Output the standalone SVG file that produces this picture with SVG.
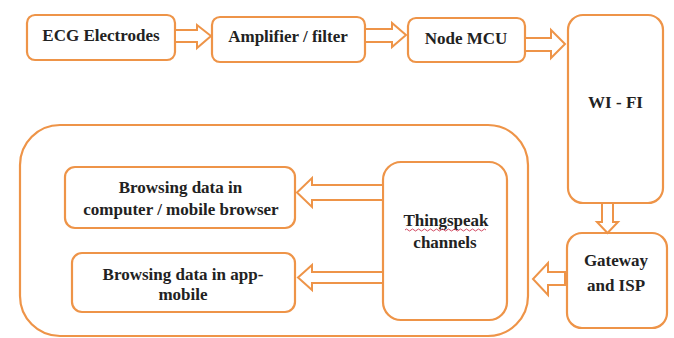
<svg xmlns="http://www.w3.org/2000/svg" width="674" height="338" viewBox="0 0 674 338">
<style>
.box{fill:#fff;stroke:#EE9448;stroke-width:2.2}
.arr{fill:#fff;stroke:#EE9448;stroke-width:2;stroke-linejoin:miter}
</style>
<defs/>
<rect width="674" height="338" fill="#fff"/>
<g font-family="Liberation Serif, Times New Roman, serif" font-weight="bold" font-size="17" fill="#222" text-anchor="middle">
<g id="outer"><rect class="box" x="20" y="125" width="508" height="211" rx="40"/></g>
<g id="ecg"><rect class="box" x="27" y="15" width="148" height="45" rx="8"/><text x="101" y="41">ECG Electrodes</text></g>
<g id="amp"><rect class="box" x="212" y="17" width="153" height="45" rx="8"/><text x="288" y="42">Amplifier / filter</text></g>
<g id="mcu"><rect class="box" x="408" y="18" width="117" height="44" rx="8"/><text x="466" y="44">Node MCU</text></g>
<g id="wifi"><rect class="box" x="568" y="15" width="95" height="188" rx="15"/><text x="615.5" y="108">WI - FI</text></g>
<g id="gateway"><rect class="box" x="567" y="233" width="100" height="95" rx="15"/><text x="616" y="266">Gateway</text><text x="616" y="291">and ISP</text></g>
<g id="thingspeak"><rect class="box" x="383" y="162" width="124" height="158" rx="18"/><text x="446" y="226">Thingspeak</text><path d="M405 230 q1.5 -2 3 0 t3 0 t3 0 t3 0 t3 0 t3 0 t3 0 t3 0 t3 0 t3 0 t3 0 t3 0 t3 0 t3 0 t3 0 t3 0 t3 0 t3 0 t3 0 t3 0 t3 0 t3 0 t3 0 t3 0 t3 0 t3 0 t3 0" fill="none" stroke="#d24a62" stroke-width="1"/><text x="445" y="248">channels</text></g>
<g id="browser"><rect class="box" x="65" y="167" width="230" height="61" rx="10"/><text x="180.5" y="193">Browsing data in</text><text x="181" y="215">computer / mobile browser</text></g>
<g id="app"><rect class="box" x="72" y="253" width="223" height="59" rx="10"/><text x="183" y="280">Browsing data in app-</text><text x="183" y="300">mobile</text></g>
</g>
<g id="connectors">
<polygon class="arr" points="175,30 197,30 197,25 211,36 197,48 197,42 175,42"/>
<polygon class="arr" points="365,29 392,29 392,23 406,35 392,47 392,42 365,42"/>
<polygon class="arr" points="525,38 551,38 551,30 565,44 551,58 551,51 525,51"/>
<polygon class="arr" points="602,203 613,203 613,222 618,222 607.5,233 597,222 602,222"/>
<polygon class="arr" points="565,272 548,272 548,263 533,279 548,295 548,285 565,285"/>
<polygon class="arr" points="383,185 312,185 312,178 297,192.5 312,207 312,200 383,200"/>
<polygon class="arr" points="383,272 312,272 312,265 298,277.5 312,290 312,283 383,283"/>
</g>
</svg>
